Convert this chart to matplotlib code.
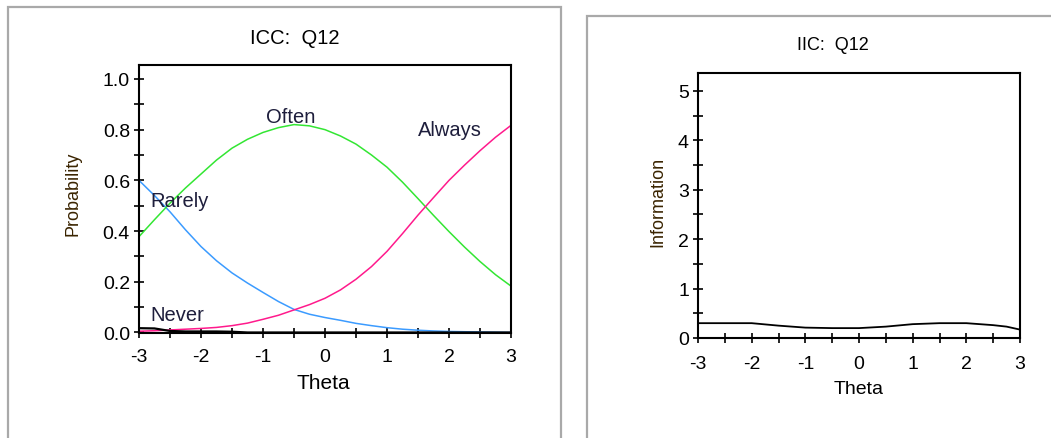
import numpy as np
import matplotlib
matplotlib.use("Agg")
import matplotlib.pyplot as plt
from matplotlib.patches import Rectangle
from matplotlib.ticker import MultipleLocator, FormatStrFormatter, FuncFormatter

plt.rcParams['font.family'] = ['Liberation Sans', 'DejaVu Sans']

# theta grid for the item curves
theta = [-3, -2.75, -2.5, -2.25, -2, -1.75, -1.5, -1.25, -1, -0.75, -0.5, -0.25,
         0, 0.25, 0.5, 0.75, 1, 1.25, 1.5, 1.75, 2, 2.25, 2.5, 2.75, 3]

# category response curves for item Q12
p_never = [0.017, 0.016, 0.006, 0.004, 0.004, 0.004, 0.003, 0.0, 0.0, 0.0, 0.0, 0.0,
           0.0, 0.0, 0.0, 0.0, 0.0, 0.0, 0.0, 0.0, 0.0, 0.0, 0.0, 0.0, 0.0]
p_rarely = [0.60, 0.54, 0.476, 0.405, 0.339, 0.283, 0.235, 0.195, 0.158, 0.122, 0.091, 0.072,
            0.059, 0.048, 0.036, 0.027, 0.019, 0.013, 0.009, 0.006, 0.004, 0.003, 0.002, 0.001, 0.0]
p_often = [0.378, 0.445, 0.51, 0.57, 0.625, 0.68, 0.727, 0.762, 0.789, 0.808, 0.82, 0.815,
           0.80, 0.775, 0.743, 0.70, 0.652, 0.593, 0.528, 0.462, 0.398, 0.337, 0.28, 0.228, 0.183]
p_always = [0.005, 0.007, 0.01, 0.013, 0.016, 0.02, 0.027, 0.037, 0.052, 0.068, 0.089, 0.11,
            0.135, 0.168, 0.21, 0.26, 0.32, 0.39, 0.463, 0.532, 0.60, 0.66, 0.717, 0.77, 0.817]

# item information
theta_info = [-3, -2.5, -2, -1.5, -1, -0.5, 0, 0.5, 1, 1.5, 2, 2.5, 2.75, 3]
info = [0.30, 0.30, 0.30, 0.25, 0.21, 0.20, 0.20, 0.23, 0.28, 0.30, 0.30, 0.26, 0.23, 0.17]

W, H = 1051, 439
fig = plt.figure(figsize=(W / 100, H / 100), dpi=100)


def px(x, y):
    return x / W, 1 - y / H


# window frames
for x0, y0, x1 in [(8, 8, 561), (587, 17, 1060)]:
    fig.patches.append(Rectangle(px(x0, 445), (x1 - x0) / W, (445 - y0) / H,
                                 transform=fig.transFigure, fill=False,
                                 edgecolor='#a9a9a9', lw=1.6))


def style(ax, xpad):
    for s in ax.spines.values():
        s.set_linewidth(1.5)
    ax.tick_params(which='both', direction='inout', length=7, width=1.2,
                   labelsize=14, pad=3)
    ax.tick_params(axis='x', pad=xpad)
    ax.xaxis.set_major_locator(MultipleLocator(1))
    ax.xaxis.set_minor_locator(MultipleLocator(0.5))
    ax.xaxis.set_major_formatter(FuncFormatter(lambda v, p: '%d' % v))
    ax.set_xlim(-3, 3)


ax1 = fig.add_axes([139 / W, 1 - 334 / H, 372 / W, 268 / H])
style(ax1, 7)
ax1.set_ylim(-0.002, 1.055)
ax1.yaxis.set_major_locator(MultipleLocator(0.2))
ax1.yaxis.set_minor_locator(MultipleLocator(0.1))
ax1.yaxis.set_major_formatter(FormatStrFormatter('%.1f'))

ax1.plot(theta, p_rarely, color='#3b9bff', lw=1.1)
ax1.plot(theta, p_often, color='#33e633', lw=1.1)
ax1.plot(theta, p_always, color='#ff1a8c', lw=1.1)
ax1.plot(theta, p_never, color='black', lw=1.6)

lab_col = '#1e1e3c'
ax1.text(-0.95, 0.85, 'Often', fontsize=14.5, color=lab_col, va='center')
ax1.text(1.5, 0.80, 'Always', fontsize=14.5, color=lab_col, va='center')
ax1.text(-2.82, 0.52, 'Rarely', fontsize=14.5, color=lab_col, va='center')
ax1.text(-2.82, 0.07, 'Never', fontsize=14.5, color=lab_col, va='center')

ax2 = fig.add_axes([698 / W, 1 - 339 / H, 322 / W, 265 / H])
style(ax2, 9)
ax2.set_ylim(0, 5.36)
ax2.yaxis.set_major_locator(MultipleLocator(1))
ax2.yaxis.set_minor_locator(MultipleLocator(0.5))
ax2.plot(theta_info, info, color='black', lw=1.3)

# titles and axis labels
fig.text(*px(295, 38), 'ICC:  Q12', fontsize=14.5, ha='center', va='center')
fig.text(*px(833, 45), 'IIC:  Q12', fontsize=13, ha='center', va='center')
fig.text(*px(323, 384), 'Theta', fontsize=15, ha='center', va='center')
fig.text(*px(859, 390), 'Theta', fontsize=14, ha='center', va='center')
narrow = ['Liberation Sans Narrow', 'Liberation Sans', 'DejaVu Sans']
fig.text(*px(73, 194), 'Probability', fontsize=13, rotation=90, ha='center',
         va='center', color='#3a2400', family=narrow)
fig.text(*px(658, 202), 'Information', fontsize=13, rotation=90, ha='center',
         va='center', color='#3a2400', family=narrow)

fig.savefig('out.png', dpi=100)
